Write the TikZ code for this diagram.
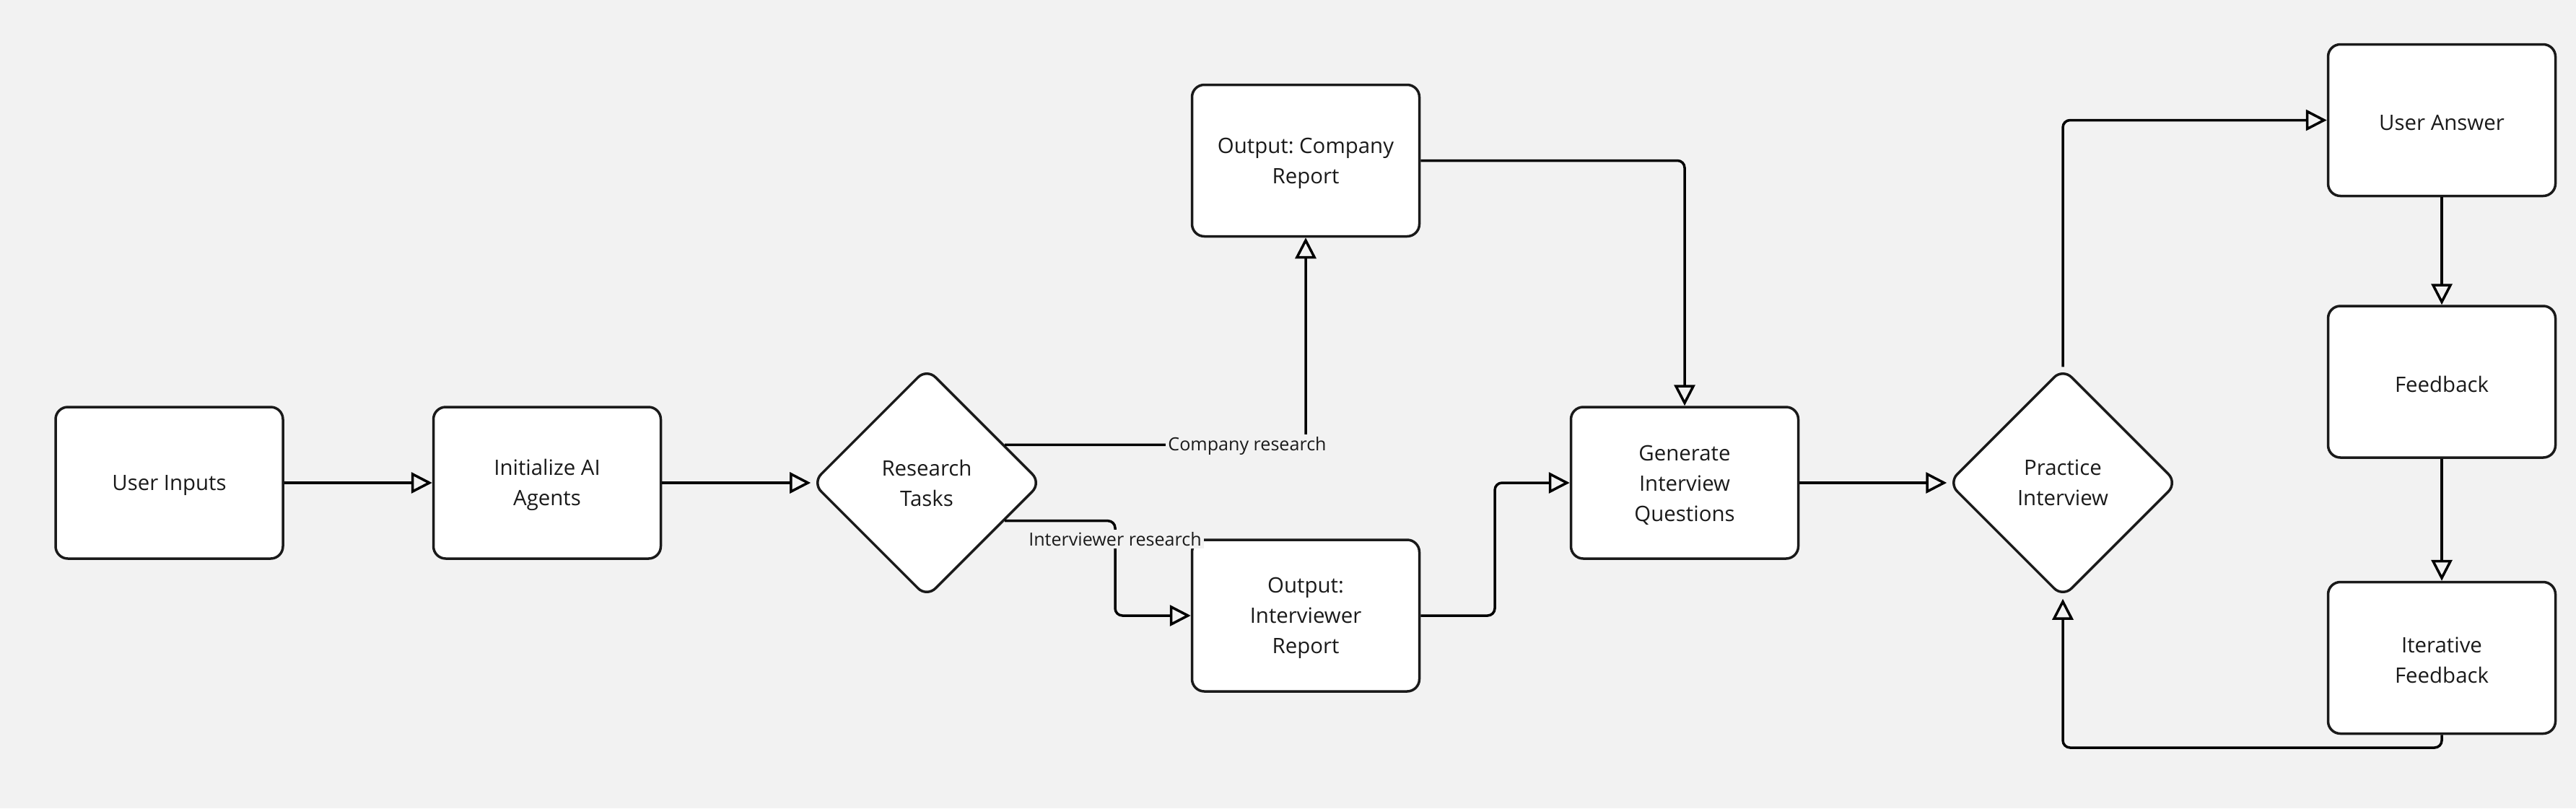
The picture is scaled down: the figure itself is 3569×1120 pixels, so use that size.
\documentclass[tikz,border=0pt]{standalone}
\usepackage{fontspec}
\setmainfont{Open Sans}
\usetikzlibrary{arrows.meta,shapes.geometric}
\definecolor{bgc}{HTML}{F2F2F2}
\definecolor{ink}{HTML}{1A1A1A}
\newcommand\tstrut{\rule{0pt}{14.3pt}}
\frenchspacing
\begin{document}
\frenchspacing
\begin{tikzpicture}[x=0.5pt,y=-0.5pt,
  box/.style={draw=ink, fill=white, line width=1.75pt, rounded corners=8.5pt,
    minimum width=157.5pt, minimum height=105pt, align=center, text=ink,
    font=\fontsize{14.7}{21}\selectfont\frenchspacing, inner sep=0pt},
  dia/.style={diamond, aspect=1, draw=ink, fill=white, line width=1.75pt,
    rounded corners=8.5pt, minimum width=159pt, minimum height=159pt,
    align=center, text=ink, font=\fontsize{14.7}{21}\selectfont, inner sep=0pt},
  conn/.style={draw=black, line width=1.75pt, rounded corners=5pt,
    -{Triangle[open,length=14.5pt,width=14.5pt]}},
  lbl/.style={fill=bgc, text=ink, font=\fontsize{12.55}{14}\selectfont, inner sep=1.5pt}]
\fill[bgc] (0,0) rectangle (3569,1120);
\useasboundingbox (0,0) rectangle (3569,1120);

\node[box] (UI) at (234.5,669) {\tstrut User Inputs};
\node[box] (IA) at (758,669) {\tstrut Initialize AI\\Agents};
\node[dia] (RT) at (1284,669) {Research\\Tasks};
\node[box] (CR) at (1809,222.5) {\tstrut Output: Company\\Report};
\node[box] (IR) at (1809,853) {\tstrut Output:\\Interviewer\\Report};
\node[box] (GQ) at (2334,669) {\tstrut Generate\\Interview\\Questions};
\node[dia] (PI) at (2858,669) {Practice\\Interview};
\node[box] (UA) at (3383,166.5) {\tstrut User Answer};
\node[box] (FB) at (3383,529) {\tstrut Feedback};
\node[box] (IF) at (3383,911.5) {\tstrut Iterative\\Feedback};

\coordinate (ib) at (1545,853);
\coordinate (gb) at (2071,669);
\coordinate (lb) at (2858,1036);

\draw[conn] (UI) -- (IA);
\draw[conn] (IA) -- (RT);
\draw[conn] (RT.26) -| (CR.south);
\draw[conn] (RT.-26) -| (ib) -- (IR.west);
\draw[conn] (CR.east) -| (GQ.north);
\draw[conn] (IR.east) -| (gb) -- (GQ.west);
\draw[conn] (GQ) -- (PI);
\draw[conn] (PI.north) |- (UA.west);
\draw[conn] (UA) -- (FB);
\draw[conn] (FB) -- (IF);
\draw[conn] (IF.south) |- (lb) -- (PI.south);

\node[lbl] (cl) at (1728,618) {Company research};
\node[lbl] (il) at (1545,747) {Interviewer research};
\end{tikzpicture}
\end{document}
